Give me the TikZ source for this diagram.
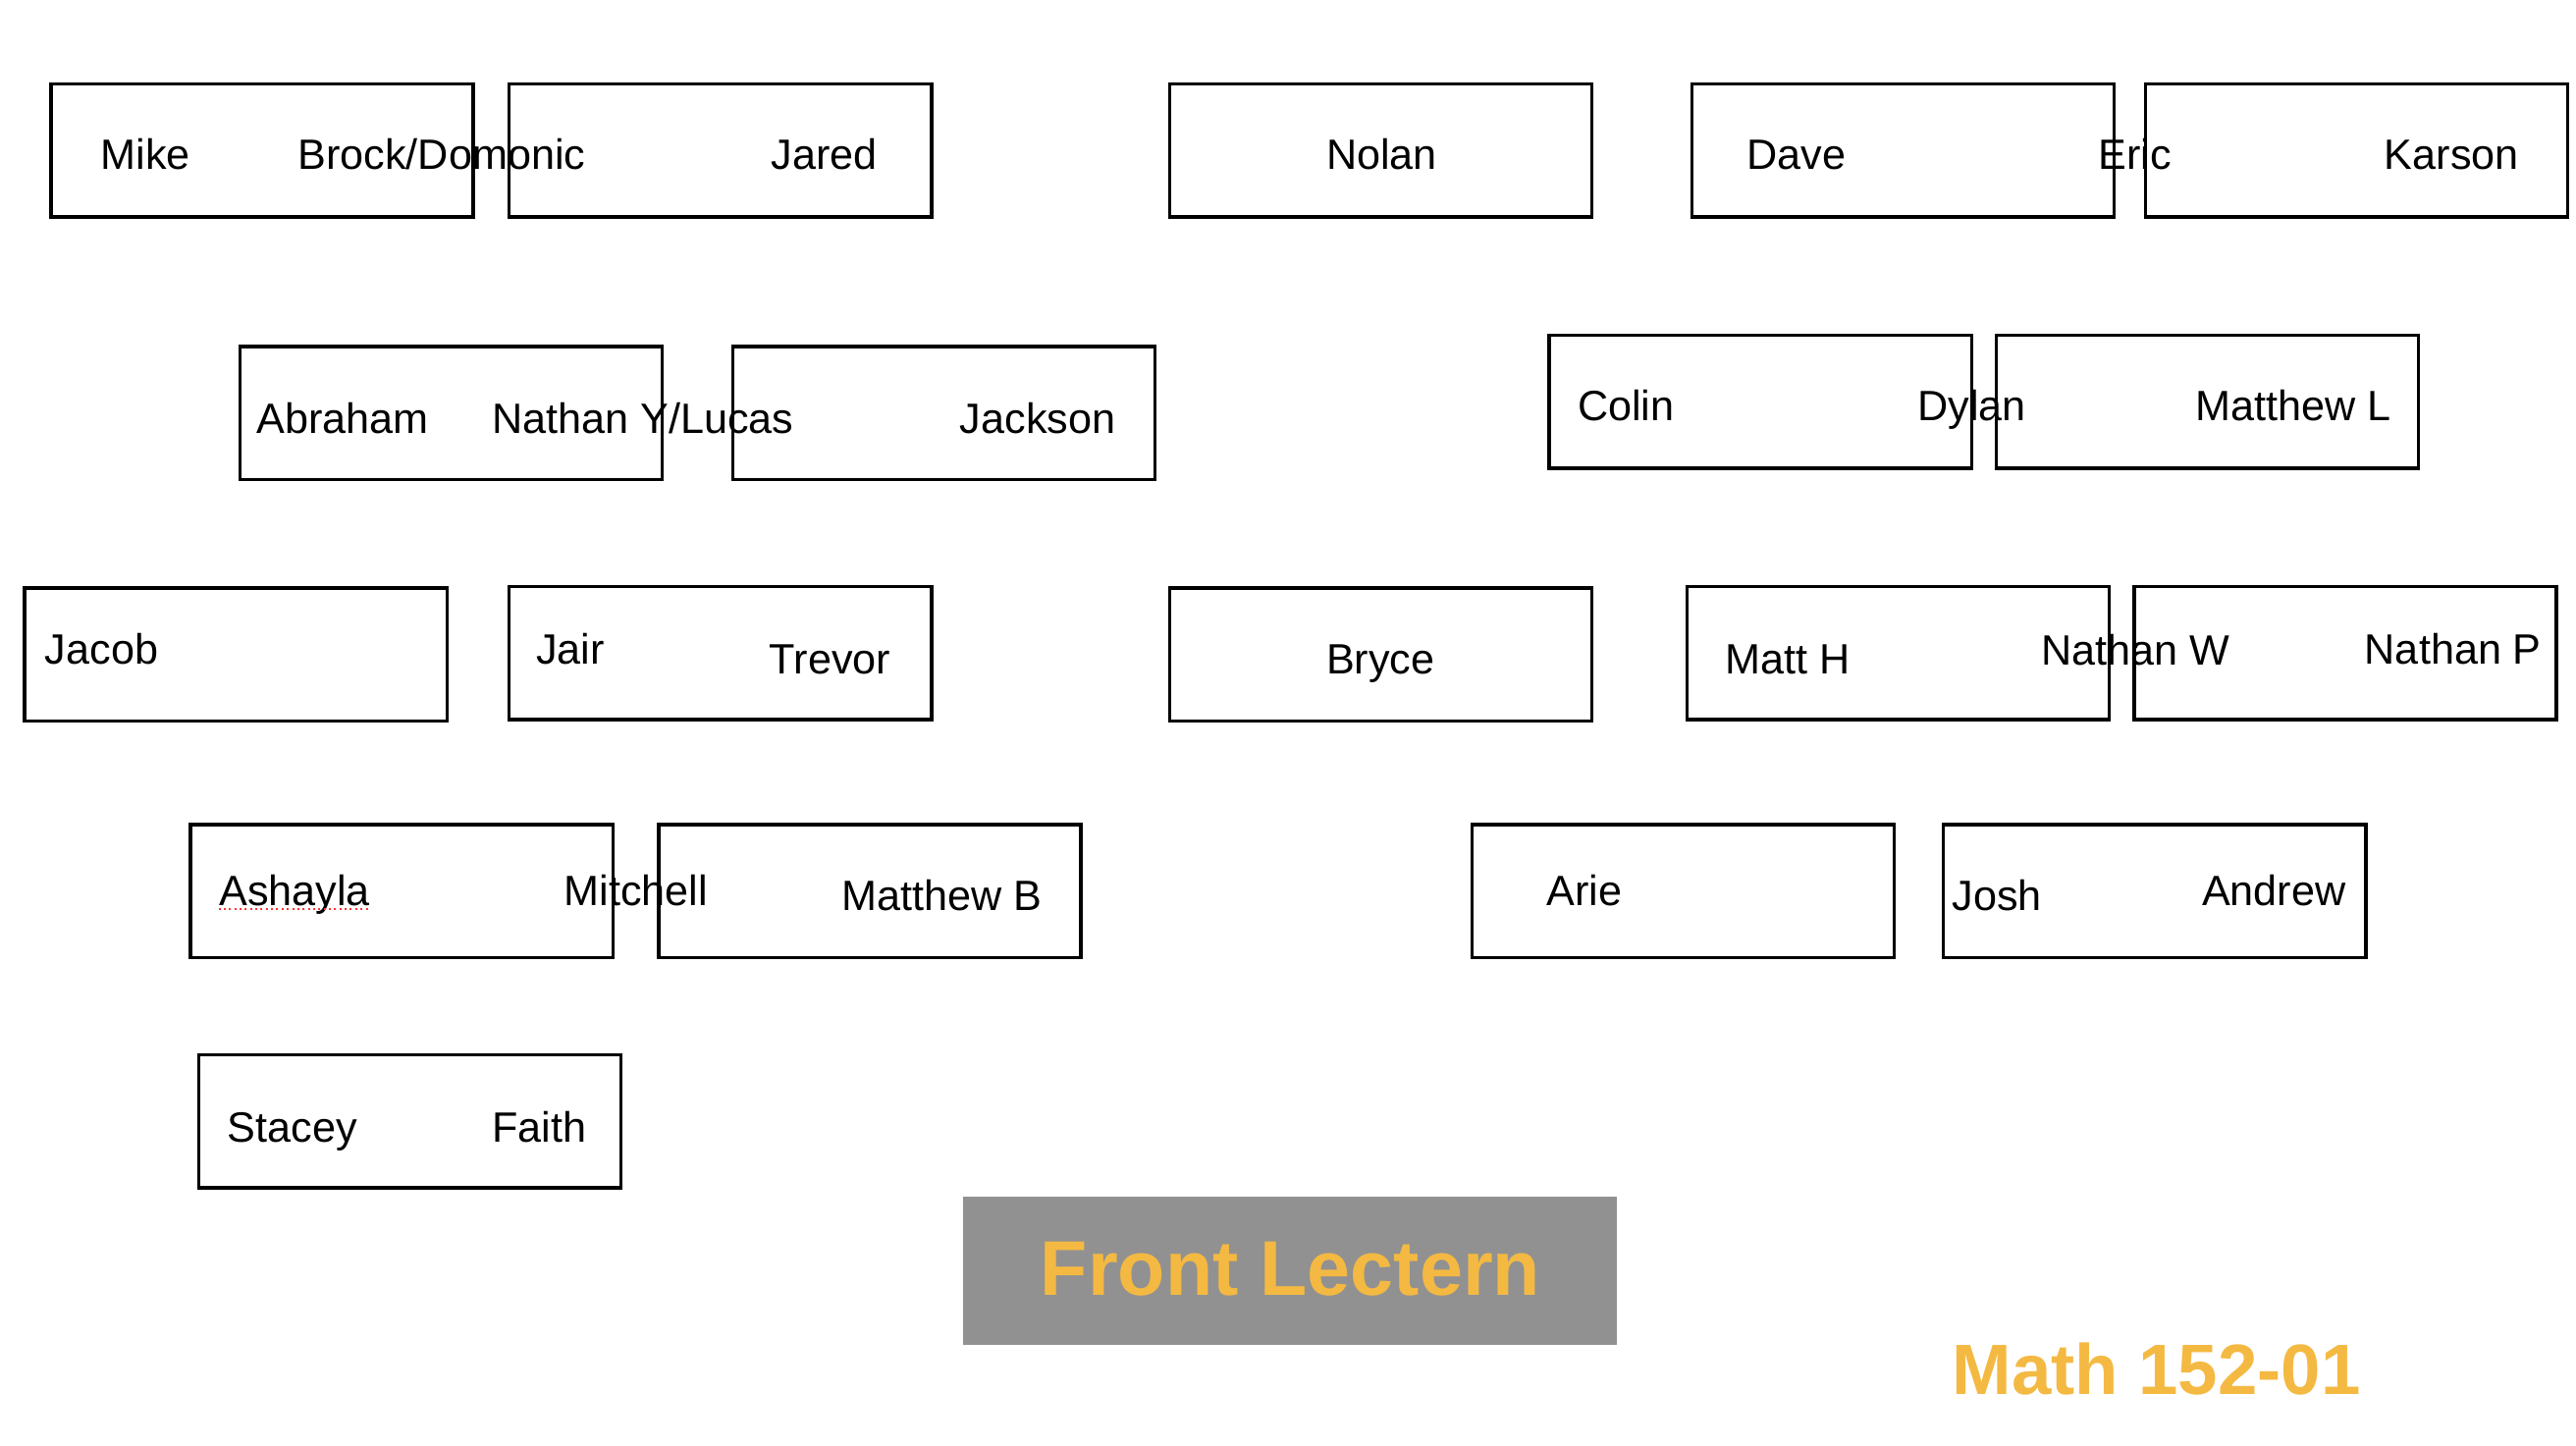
\documentclass[tikz,border=0pt]{standalone}
\usepackage{fontspec}
\setmainfont{Liberation Sans}
\usepackage{tikz}
\usetikzlibrary{positioning,calc}
\definecolor{lectgrey}{RGB}{145,145,145}
\definecolor{lectorange}{RGB}{244,185,66}
\tikzset{x=0.5pt, y=-0.5pt}
\tikzstyle{desk}=[draw=black, line width=1pt, rectangle, inner sep=0pt, outer sep=0pt, minimum width=128.5pt, minimum height=40.5pt, anchor=north west]
\tikzstyle{nm}=[inner sep=0pt, anchor=base west, font=\fontsize{12.9}{15}\selectfont]
\tikzstyle{big}=[inner sep=0pt, anchor=base west, text=lectorange, font=\bfseries\fontsize{23.6}{26}\selectfont]

\begin{document}
\begin{tikzpicture}
        \useasboundingbox (0,0) rectangle (1568,880);
        % desks, back row first
        \node (d1) [desk] at (31,51) {};
        \node (d2) [desk] at (310,51) {};
        \node (d3) [desk] at (712,51) {};
        \node (d4) [desk] at (1030,51) {};
        \node (d5) [desk] at (1306,51) {};
        \node (d6) [desk] at (146,211) {};
        \node (d7) [desk] at (446,211) {};
        \node (d8) [desk] at (943,204) {};
        \node (d9) [desk] at (1215,204) {};
        \node (d10) [desk] at (15,358) {};
        \node (d11) [desk] at (310,357) {};
        \node (d12) [desk] at (712,358) {};
        \node (d13) [desk] at (1027,357) {};
        \node (d14) [desk] at (1299,357) {};
        \node (d15) [desk] at (116,502) {};
        \node (d16) [desk] at (401,502) {};
        \node (d17) [desk] at (896,502) {};
        \node (d18) [desk] at (1183,502) {};
        \node (d19) [desk] at (121,642) {};
        % names
        \node (mike) [nm] at (61,103) {Mike};
        \node (brock) [nm] at (181,103) {Brock/Domonic};
        \node (jared) [nm] at (469,103) {Jared};
        \node (nolan) [nm] at (807,103) {Nolan};
        \node (dave) [nm] at (1063,103) {Dave};
        \node (eric) [nm] at (1277,103) {Eric};
        \node (karson) [nm] at (1451,103) {Karson};
        \node (abraham) [nm] at (156,264) {Abraham};
        \node (nathany) [nm] at (299,264) {Nathan Y/Lucas};
        \node (jackson) [nm] at (584,264) {Jackson};
        \node (colin) [nm] at (960,256) {Colin};
        \node (dylan) [nm] at (1167,256) {Dylan};
        \node (matthewl) [nm] at (1336,256) {Matthew L};
        \node (jacob) [nm] at (27,404) {Jacob};
        \node (jair) [nm] at (326,404) {Jair};
        \node (trevor) [nm] at (468,410) {Trevor};
        \node (bryce) [nm] at (807,410) {Bryce};
        \node (matth) [nm] at (1050,410) {Matt H};
        \node (nathanw) [nm] at (1242,405) {Nathan W};
        \node (nathanp) [nm] at (1439,404) {Nathan P};
        \node (ashayla) [nm] at (133,551) {Ashayla};
        \node (mitchell) [nm] at (343,551) {Mitchell};
        \node (matthewb) [nm] at (512,554) {Matthew B};
        \node (arie) [nm] at (941,551) {Arie};
        \node (josh) [nm] at (1188,554) {Josh};
        \node (andrew) [nm] at (1340,551) {Andrew};
        \node (stacey) [nm] at (138,695) {Stacey};
        \node (faith) [nm] at (299,695) {Faith};
        \draw[red!80, densely dotted, line width=0.6pt] ([yshift=-1.2pt]ashayla.base west) -- ([yshift=-1.2pt]ashayla.base east);
        % front of the room
        \node (lectern) [fill=lectgrey, inner sep=0pt, minimum width=199pt, minimum height=45pt, anchor=north west] at (586,728) {};
        \node (lecttext) [big] at (633,788.5) {Front Lectern};
        \node (course) [big, font=\bfseries\fontsize{21.7}{24}\selectfont] at (1188,849) {Math 152-01};
\end{tikzpicture}
\end{document}
